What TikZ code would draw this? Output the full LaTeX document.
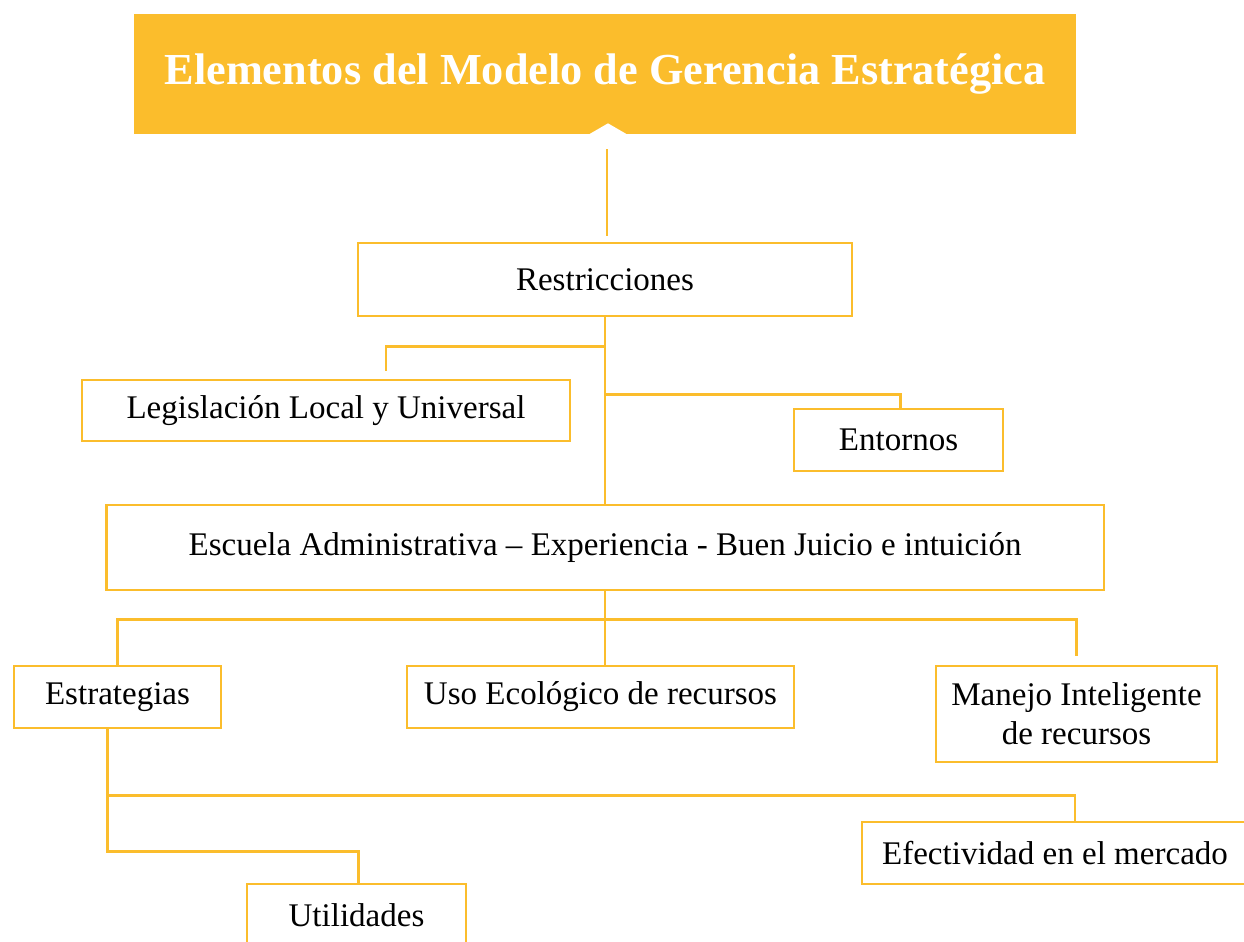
\documentclass[tikz,border=0pt]{standalone}
\usepackage{fontspec}
\setmainfont{Liberation Serif}
\usetikzlibrary{calc}
\definecolor{amarillo}{RGB}{251,189,44}
\tikzset{
  caja/.style={draw=amarillo,line width=1.6pt,fill=white,align=center,inner sep=0pt,font=\fontsize{18.8}{22}\selectfont},
  linea/.style={draw=amarillo,line width=1.6pt},
}
\begin{document}
\begin{tikzpicture}[x=0.02cm,y=-0.02cm]
\useasboundingbox (0,0) rectangle (1244,942);
% titulo
\node[fill=amarillo,minimum width=18.84cm,minimum height=2.4cm,text=white,font=\bfseries\fontsize{25.2}{29}\selectfont] (titulo) at (605,74) {\raisebox{-1.5pt}{Elementos del Modelo de Gerencia Estratégica}};
\fill[white] ($(titulo.south)+(-16,0)$) -- ($(titulo.south)+(3,-11)$) -- ($(titulo.south)+(22,0)$) -- cycle; % muesca
% cajas
\node[caja,minimum width=9.88cm,minimum height=1.46cm] (restr) at (605,279.5) {Restricciones};
\node[caja,minimum width=9.76cm,minimum height=1.22cm] (legis) at (326,410.5) {Legislación Local y Universal};
\node[caja,minimum width=4.18cm,minimum height=1.24cm] (entornos) at (898.5,440) {Entornos};
\node[caja,minimum width=19.96cm,minimum height=1.7cm] (escuela) at (605,547.5) {Escuela Administrativa -- Experiencia - Buen Juicio e intuición};
\node[caja,minimum width=4.14cm,minimum height=1.24cm] (estrat) at (117.5,697) {Estrategias};
\node[caja,minimum width=7.74cm,minimum height=1.24cm] (uso) at (600.5,697) {Uso Ecológico de recursos};
\node[caja,minimum width=5.62cm,minimum height=1.92cm] (manejo) at (1076.5,714) {Manejo Inteligente\\de recursos};
\node[caja,minimum width=7.72cm,minimum height=1.24cm] (efect) at (1055,853) {Efectividad en el mercado};
\node[caja,minimum width=4.38cm,minimum height=1.24cm] (util) at (356.5,915) {Utilidades};
% conectores
\draw[linea] ($(titulo.south)+(2,15)$) -- ($(restr.north)+(2,-6)$);
\draw[linea] (restr.south) -- (escuela.north);
\coordinate (legisE) at ($(legis.north)+(60,-8)$);
\draw[linea] (restr.south) ++(0,29) -| (legisE);
\draw[linea] (restr.south) ++(0,77) -| ($(entornos.north)+(2,0)$);
\draw[linea] (escuela.south) -- (escuela.south |- uso.north);
\draw[linea] (escuela.south) ++(0,28) -| (estrat.north);
\coordinate (manejoE) at ($(manejo.north)+(0,-9)$);
\draw[linea] (escuela.south) ++(0,28) -| (manejoE);
% ramas de estrategias
\coordinate (tronco) at ($(estrat.south)+(-10,0)$);
\draw[linea] (tronco) |- ($(efect.north)+(20,-25)$) -- ($(efect.north)+(20,0)$);
\draw[linea] (tronco) |- ($(util.north)+(2,-31)$) -- ($(util.north)+(2,0)$);
\end{tikzpicture}
\end{document}
